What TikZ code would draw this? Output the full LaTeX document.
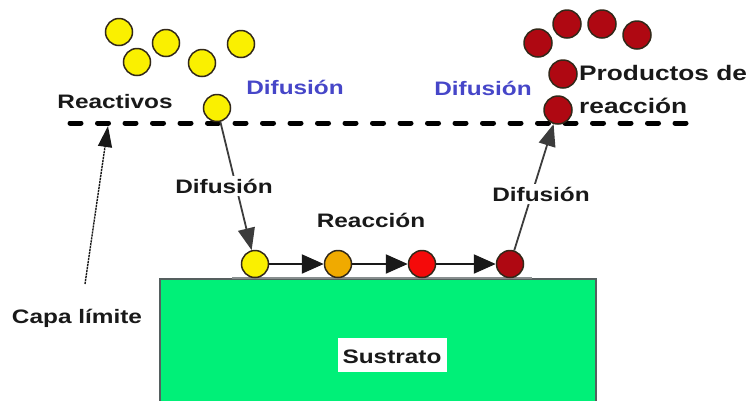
\documentclass[tikz,border=0pt]{standalone}
\usepackage{fontspec}
\setmainfont{Liberation Sans}
\usetikzlibrary{arrows.meta}

\definecolor{txtdark}{RGB}{25,25,25}
\definecolor{difblue}{RGB}{70,70,200}
\definecolor{reactyellow}{RGB}{250,240,0}
\definecolor{midorange}{RGB}{240,170,0}
\definecolor{hotred}{RGB}{245,10,10}
\definecolor{prodred}{RGB}{175,8,18}
\definecolor{ballline}{RGB}{50,40,25}
\definecolor{subgreen}{RGB}{0,240,120}
\definecolor{subedge}{RGB}{85,95,95}

% labels are set a little wider than the font's natural width
\newcommand\widetext[1]{\scalebox{1.25}[1]{#1}}

\tikzset{
  lbl/.style={font=\fontsize{19.5}{22}\selectfont\bfseries, text=txtdark, inner sep=0pt},
  bluelbl/.style={lbl, text=difblue},
  ball/.style={circle, draw=ballline, line width=1.5pt, minimum size=27pt, inner sep=0pt},
  pball/.style={ball, fill=prodred, minimum size=28pt},
  flow/.style={line width=2.2pt, draw=txtdark, -{Triangle[length=22pt,width=19pt]}},
  difflow/.style={line width=1.8pt, draw=txtdark!85, -{Triangle[length=22pt,width=17pt]}},
}

\begin{document}
\begin{tikzpicture}[x=1pt,y=-1pt]
\useasboundingbox (0,0) rectangle (749,400);

% substrate block and its surface
\fill[subgreen] (160,279) rectangle (596,402);
\draw[subedge, line width=1.2pt] (160,402) -- (160,279) -- (596,279) -- (596,402);
\draw[subedge!70, line width=2pt] (232,277.5) -- (532,277.5);
\node[fill=white, minimum width=109pt, minimum height=34pt, inner sep=0pt] (sust) at (392,355) {};
\node[lbl, anchor=base] at (392,363) {\widetext{Sustrato}};

% boundary layer
\coordinate (bl0) at (70,123);
\coordinate (bl1) at (688,123);
\draw[line width=5pt, line cap=round, dash pattern=on 11pt off 16.5pt] (bl0) -- (bl1);

% reactants in the gas phase
\node[ball, fill=reactyellow] (r1) at (119,32) {};
\node[ball, fill=reactyellow] (r2) at (137,62) {};
\node[ball, fill=reactyellow] (r3) at (166,43) {};
\node[ball, fill=reactyellow] (r4) at (202,63) {};
\node[ball, fill=reactyellow] (r5) at (241,44) {};
\node[ball, fill=reactyellow] (r6) at (217,108) {};

% reaction products
\node[pball] (p1) at (538,43) {};
\node[pball] (p2) at (567,24) {};
\node[pball] (p3) at (602,24) {};
\node[pball] (p4) at (637,35) {};
\node[pball] (p5) at (563,74) {};
\node[pball] (p6) at (558,110) {};

% species on the surface
\node[ball, fill=reactyellow] (s1) at (255,264) {};
\node[ball, fill=midorange] (s2) at (338,264) {};
\node[ball, fill=hotred] (s3) at (422,264) {};
\node[ball, fill=prodred] (s4) at (510,264) {};

\draw[flow] (s1) -- (s2);
\draw[flow] (s2) -- (s3);
\draw[flow] (s3) -- (s4);

% diffusion through the boundary layer
\draw[difflow] (r6) -- (s1);
\draw[difflow] (s4) -- (p6);

% labels
\node[lbl, anchor=base] (reac) at (115,108) {\widetext{Reactivos}};
\node[bluelbl, anchor=base] (dif1) at (295,94) {\widetext{Difusión}};
\node[bluelbl, anchor=base] (dif2) at (483,95) {\widetext{Difusión}};
\node[lbl, fill=white, inner sep=3pt, anchor=base] (dif3) at (224,193) {\widetext{Difusión}};
\node[lbl, fill=white, inner sep=3pt, anchor=base] (dif4) at (541,201) {\widetext{Difusión}};
\node[lbl, anchor=base] (rxn) at (371,227) {\widetext{Reacción}};
\node[lbl, anchor=base west, font=\fontsize{21}{24}\selectfont\bfseries] (prod1) at (579,80) {\widetext{Productos de}};
\node[lbl, anchor=base west, font=\fontsize{21}{24}\selectfont\bfseries] (prod2) at (579,113) {\widetext{reacción}};
\node[lbl, anchor=base] (capa) at (77,323) {\widetext{Capa límite}};

% pointer to the boundary layer
\coordinate (capatail) at (85,284);
\coordinate (capatip) at (108,126);
\draw[line width=1.4pt, dash pattern=on 2.2pt off 0.8pt, draw=txtdark, -{Triangle[length=21pt,width=14pt]}] (capatail) -- (capatip);

\end{tikzpicture}
\end{document}
